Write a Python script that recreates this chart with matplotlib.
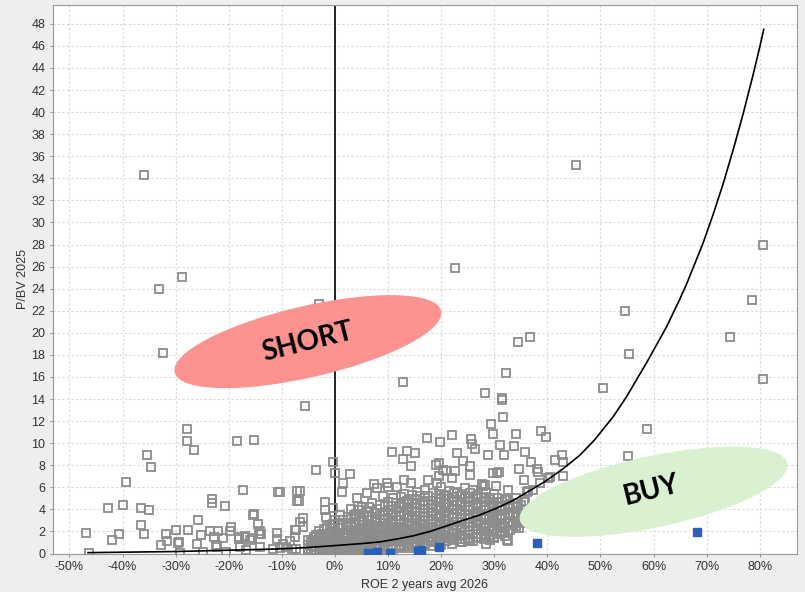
import matplotlib
matplotlib.use("Agg")
import matplotlib.pyplot as plt
from matplotlib.patches import Ellipse
from matplotlib.transforms import ScaledTranslation
from matplotlib.ticker import FuncFormatter, MultipleLocator

plt.rcParams['font.family'] = ['Liberation Sans', 'DejaVu Sans']

# scattered stocks (ROE %, P/BV)
outlier_x = [45.3, -36.0, -28.8, -33.1, 22.7, 80.6, 78.5, 54.6, -3.0, 74.3, 36.8, 34.4, -32.3, 55.3,
             80.7, 12.9, 50.4, -5.7, 32.2, 28.2, 31.5, 31.7, 29.4, 29.7, 34.0, 38.8, 39.7, 22.1, 17.3,
             25.7, 58.7, -27.9, -27.8, -18.4, -15.2, 55.2]
outlier_y = [35.2, 34.3, 25.1, 24.0, 25.9, 28.0, 23.0, 22.0, 22.6, 19.6, 19.6, 19.2, 18.2, 18.1,
             15.8, 15.5, 15.0, 13.4, 16.4, 14.5, 14.1, 12.4, 11.7, 10.8, 10.8, 11.1, 10.6, 10.7, 10.5,
             10.4, 11.3, 11.3, 10.2, 10.2, 10.3, 8.8]

left_x = [-46.8, -46.4, -42.8, -42.0, -40.7, -40.0, -39.4, -36.6, -36.6, -35.9, -35.4, -35.1, -34.7,
          -32.7, -31.9, -31.7, -30.0, -29.5, -27.6, -26.5, -26.0, -25.8, -25.2, -23.1, -23.1, -23.6,
          -22.8, -22.4, -21.1, -20.7, -19.6, -18.1, -17.4, -16.9, -15.7, -15.3, -14.5, -14.3, -10.8,
          -7.1, -7.1, -29.4, -22.0, -19.8, -18.1, -17.0, -16.0, -14.0, -11.0, -11.0, -9.8, -8.5,
          -7.6, -7.3, -22.3, -17.9, -14.2, -24.9, -29.2, -20.5, -16.8, -11.7, -9.2, -7.3]
left_y = [1.9, 0.05, 4.15, 1.25, 1.8, 4.4, 6.45, 4.1, 2.6, 1.75, 8.95, 3.95, 7.8,
          0.8, 1.8, 1.1, 2.1, 0.95, 2.1, 9.4, 0.86, 3.0, 1.7, 4.9, 4.55, 2.0,
          1.5, 0.8, 1.4, 4.3, 2.4, 1.5, 5.8, 1.5, 1.4, 3.55, 2.7, 1.75, 5.6,
          5.7, 4.8, 1.0, 2.0, 2.0, 1.3, 1.6, 1.2, 1.8, 1.9, 1.3, 0.9, 1.1,
          1.5, 2.1, 0.6, 0.6, 0.6, 0.15, 0.05, 0.15, 0.3, 0.4, 0.55, 0.4]

mid_x = [-0.4, 0.0, -3.6, 2.9, 1.5, 1.4, 4.2, 6.0, 7.3, 8.0, 10.8, 13.6, 15.0, 12.8, 14.4, 19.7,
         25.9, 26.4, 31.5, 31.0, 33.7, 35.7, 36.9, 38.1, 41.4, 42.8, 43.0, 43.0, 34.7, 35.6, 32.6,
         31.8, 28.8, 30.5, 29.7, 27.9, 25.5, 25.4, 24.1, 22.9, 22.1, 20.4, 19.1, 19.5, 19.2, 17.5,
         14.4, 13.0, 11.6, 10.0, 9.8, 40.1, 38.6, 36.3, 35.7, 32.5, 30.7, 29.2, 28.2, 30.4, 30.9,
         27.6, 26.9, 34.6, 31.5, 32.4, 28.4, 30.0, 31.3, 25.4, 21.9, 40.5, 38.2, 37.3, 36.1, 32.4,
         35.6, 21.0, 22.6, 19.6, -6.6, -6.8, -10.4, -1.8, -0.4, 4.3, 3.9, -6.0, -7.6, -1.6, -6.6,
         -1.9, -14.2, -15.4, -3.6, -6.0, -10.4, -8.0, -4.1, -2.2, -0.4, 29.8, 31.7, 32.5, 29.2, 25.5]
mid_y = [8.3, 7.3, 7.6, 7.2, 6.4, 5.6, 5.0, 5.5, 6.3, 5.9, 9.2, 9.3, 9.1, 8.6, 7.9, 10.1,
         9.9, 9.5, 13.9, 9.8, 9.7, 9.2, 8.3, 7.7, 8.5, 8.9, 8.3, 7.0, 7.7, 6.7, 5.8,
         8.9, 8.9, 7.3, 7.3, 6.1, 7.9, 7.1, 8.4, 9.1, 6.8, 7.6, 8.0, 7.0, 6.4, 6.7,
         6.4, 6.7, 6.0, 6.0, 6.4, 6.8, 6.4, 5.7, 4.7, 4.1, 4.7, 5.0, 6.2, 6.1, 7.4,
         6.3, 3.3, 2.3, 2.0, 1.2, 0.9, 1.5, 2.4, 1.2, 1.5, 6.9, 7.4, 5.8, 5.6, 4.85,
         4.7, 7.5, 7.5, 8.2, 5.7, 4.8, 5.6, 4.65, 4.1, 4.3, 3.3, 3.2, 2.1, 3.3, 2.9,
         3.9, 2.0, 3.5, 1.5, 2.4, 0.5, 0.4, 1.2, 1.7, 2.7, 3.2, 2.4, 1.1, 1.2, 1.1]

# dense core of the cloud, per ROE column
core_cols = [
    (-5, [0.1, 0.4, 0.8, 1.2]),
    (-4.5, [0.3, 0.7, 1.0]),
    (-4, [0.2, 0.6, 1.0, 1.5]),
    (-3.5, [0.3, 0.7, 1.1, 1.7]),
    (-3, [0.1, 0.5, 0.9, 1.3, 2.0]),
    (-2.5, [0.2, 0.5, 0.9, 1.4, 1.8]),
    (-2, [0.3, 0.7, 1.1, 1.6, 2.2]),
    (-1.5, [0.3, 0.7, 1.2, 1.7, 2.4]),
    (-1, [0.1, 0.5, 0.9, 1.4, 1.9, 2.6]),
    (-0.5, [0.4, 0.8, 1.2, 1.7, 2.3]),
    (0, [0.2, 0.6, 1.0, 1.5, 2.0, 3.0]),
    (0.5, [0.4, 0.8, 1.3, 1.8, 2.6]),
    (1, [0.1, 0.4, 0.8, 1.2, 1.7, 2.3, 3.5]),
    (1.5, [0.2, 0.6, 1.0, 1.4, 1.9, 2.6, 3.0]),
    (2, [0.3, 0.7, 1.1, 1.6, 2.1, 2.8]),
    (2.5, [0.5, 0.9, 1.4, 1.9, 2.5, 3.3]),
    (3, [0.1, 0.5, 0.9, 1.3, 1.8, 2.4, 3.1, 4.0]),
    (3.5, [0.3, 0.7, 1.1, 1.6, 2.1, 2.8, 3.5]),
    (4, [0.2, 0.6, 1.0, 1.5, 2.0, 2.6, 3.6]),
    (4.5, [0.4, 0.8, 1.3, 1.8, 2.3, 3.0, 3.9]),
    (5, [0.3, 0.7, 1.2, 1.7, 2.2, 2.9, 4.2]),
    (5.5, [0.5, 0.9, 1.4, 2.0, 2.6, 3.3]),
    (6, [0.4, 0.8, 1.3, 1.8, 2.4, 3.0, 3.8]),
    (6.5, [0.6, 1.1, 1.6, 2.1, 2.7, 3.4, 4.2]),
    (7, [0.2, 0.6, 1.0, 1.5, 2.0, 2.6, 3.3, 4.6]),
    (7.5, [0.4, 0.8, 1.2, 1.7, 2.3, 2.9, 3.7]),
    (8, [0.5, 0.9, 1.4, 1.9, 2.5, 3.1, 4.0]),
    (8.5, [0.7, 1.1, 1.6, 2.2, 2.8, 3.5, 4.4]),
    (9, [0.3, 0.7, 1.2, 1.7, 2.2, 2.8, 3.5, 5.2]),
    (9.5, [0.5, 0.9, 1.4, 1.9, 2.5, 3.1, 3.8, 4.3]),
    (10, [0.6, 1.0, 1.5, 2.0, 2.6, 3.2, 3.9, 4.7]),
    (10.5, [0.8, 1.2, 1.7, 2.3, 2.9, 3.5, 4.3]),
    (11, [0.4, 0.8, 1.3, 1.8, 2.4, 3.0, 3.7, 5.0]),
    (11.5, [0.6, 1.1, 1.6, 2.1, 2.7, 3.4, 4.0, 4.6]),
    (12, [0.5, 1.0, 1.5, 2.1, 2.7, 3.4, 4.2]),
    (12.5, [0.8, 1.3, 1.8, 2.4, 3.0, 3.8, 4.6, 5.1]),
    (13, [0.7, 1.2, 1.7, 2.3, 2.9, 3.6, 4.5, 5.4]),
    (13.5, [0.9, 1.4, 2.0, 2.6, 3.2, 3.9, 4.8]),
    (14, [0.5, 1.0, 1.6, 2.2, 2.8, 3.5, 4.1, 4.9]),
    (14.5, [0.7, 1.3, 1.9, 2.5, 3.2, 3.8, 4.5, 5.3]),
    (15, [0.8, 1.3, 1.9, 2.5, 3.1, 3.8, 4.6]),
    (15.5, [1.0, 1.6, 2.2, 2.8, 3.4, 4.1, 4.9, 5.6]),
    (16, [0.6, 1.1, 1.7, 2.3, 3.0, 3.7, 4.4, 5.2]),
    (16.5, [0.9, 1.4, 2.0, 2.6, 3.3, 4.0, 4.7]),
    (17, [0.9, 1.5, 2.1, 2.7, 3.4, 4.0, 4.8, 5.8]),
    (17.5, [1.2, 1.8, 2.4, 3.0, 3.7, 4.4, 5.2]),
    (18, [0.7, 1.2, 1.8, 2.4, 3.1, 3.8, 4.5]),
    (18.5, [1.0, 1.5, 2.1, 2.7, 3.4, 4.1, 4.8, 5.5]),
    (19, [1.0, 1.6, 2.2, 2.9, 3.6, 4.3, 5.0]),
    (19.5, [1.3, 1.9, 2.5, 3.2, 3.9, 4.7, 5.4]),
    (20, [0.8, 1.4, 2.0, 2.7, 3.4, 4.1, 4.9, 6.0]),
    (20.5, [1.1, 1.7, 2.3, 3.0, 3.7, 4.5, 5.2]),
    (21, [1.1, 1.7, 2.4, 3.1, 3.8, 4.6, 5.3]),
    (21.5, [1.4, 2.0, 2.7, 3.4, 4.2, 4.9, 5.7]),
    (22, [0.9, 1.5, 2.2, 2.9, 3.6, 4.4, 5.1]),
    (22.5, [1.2, 1.8, 2.5, 3.2, 4.0, 4.7, 5.5]),
    (23, [1.3, 1.9, 2.6, 3.3, 4.0, 4.8, 5.6]),
    (23.5, [1.0, 1.6, 2.2, 2.9, 3.6, 4.4, 5.2]),
    (24, [1.0, 1.7, 2.4, 3.1, 3.9, 4.6, 5.4]),
    (24.5, [1.3, 2.0, 2.7, 3.5, 4.2, 5.0, 5.9]),
    (25, [1.4, 2.1, 2.8, 3.5, 4.3, 5.1]),
    (25.5, [1.7, 2.4, 3.1, 3.9, 4.7, 5.5]),
    (26, [1.1, 1.8, 2.5, 3.3, 4.1, 4.9, 5.8]),
    (26.5, [1.4, 2.1, 2.8, 3.6, 4.4, 5.2]),
    (27, [1.5, 2.2, 3.0, 3.8, 4.6, 5.4]),
    (27.5, [1.8, 2.6, 3.4, 4.2, 5.0]),
    (28, [1.3, 2.0, 2.7, 3.5, 4.3, 5.1]),
    (28.5, [1.5, 2.3, 3.1, 3.9, 4.7, 5.5]),
    (29, [1.7, 2.5, 3.3, 4.1, 4.9]),
    (29.5, [2.0, 2.8, 3.6, 4.4]),
    (30, [1.4, 2.2, 3.0, 3.8, 4.6, 5.4]),
    (30.5, [1.8, 2.6, 3.4, 4.2, 5.0]),
    (31, [1.9, 2.7, 3.5, 4.3]),
    (31.5, [2.3, 3.1, 3.9, 4.7]),
    (32, [1.6, 2.4, 3.2, 4.0, 4.9]),
    (32.5, [2.0, 2.8, 3.6, 4.4]),
    (33, [2.1, 2.9, 3.7, 4.5]),
    (33.5, [2.6, 3.4, 4.2]),
    (34, [2.5, 3.3, 4.2, 5.0]),
    (34.5, [2.9, 3.7, 4.6]),
    (35, [2.8, 3.6, 4.4]),
    (35.5, [3.2, 4.0]),
    (36, [3.0, 3.9]),
    (36.5, [3.5]),
    (37, [3.3]),
]

# highlighted stocks (blue)
blue_x = [6.2, 7.9, 10.3, 15.6, 16.2, 19.6, 38.1, 68.1]
blue_y = [0.05, 0.1, 0.02, 0.2, 0.35, 0.55, 0.95, 1.95]

# fair value curve
curve_x = [-46.5, -40, -30, -20, -10, -5, 0, 5, 8.4, 11.5, 14.7, 17.9, 21.0, 24.1, 27.3, 30.4,
           33.5, 36.7, 39.8, 43.0, 46.1, 48.9, 52.4, 54.9, 58.7, 62.4, 64.7, 66.2, 69.3, 71.2,
           73.1, 75.0, 76.9, 78.7, 80.0, 80.75]
curve_y = [0.08, 0.12, 0.18, 0.3, 0.42, 0.55, 0.72, 0.9, 1.05, 1.3, 1.6, 2.0, 2.5, 3.0, 3.5,
           4.1, 4.8, 5.7, 6.6, 7.7, 8.9, 10.3, 12.4, 14.2, 17.3, 20.5, 22.8, 24.4, 28.1, 30.7,
           33.5, 36.6, 39.9, 43.3, 45.9, 47.5]

core_x = []
core_y = []
for cx, ys in core_cols:
    for yy in ys:
        core_x.append(cx)
        core_y.append(yy)

gray_x = outlier_x + left_x + mid_x + core_x
gray_y = outlier_y + left_y + mid_y + core_y

fig = plt.figure(figsize=(8.05, 5.92), dpi=100)
fig.patch.set_facecolor('#eeeeee')
ax = fig.add_axes([0.0658, 0.065, 0.9242, 0.9265])
ax.set_facecolor('white')

ax.set_xlim(-53.1, 87.0)
ax.set_ylim(0, 49.7)
ax.xaxis.set_major_locator(MultipleLocator(10))
ax.yaxis.set_major_locator(MultipleLocator(2))
ax.xaxis.set_major_formatter(FuncFormatter(lambda v, p: '%d%%' % round(v)))
ax.yaxis.set_major_formatter(FuncFormatter(lambda v, p: '%d' % round(v)))
ax.grid(True, color='#d9d9d9', linestyle=(0, (2, 2)), linewidth=0.8)
ax.set_axisbelow(True)
for s in ax.spines.values():
    s.set_color('#999999')
ax.tick_params(colors='#999999', labelcolor='#333333', labelsize=9, length=2, width=0.8)

ax.axvline(0, color='black', lw=1.2, zorder=2)
ax.plot(gray_x, gray_y, 's', ms=6, mfc='none', mec='#8c8c8c', mew=1.3, zorder=3)
ax.plot(curve_x, curve_y, color='black', lw=1.2, solid_joinstyle='round', zorder=4)
ax.plot(blue_x, blue_y, 's', ms=5.5, color='#2c5fb8', zorder=5)

# shaded zones, size in inches, centre in data coords
short_ell = Ellipse((0, 0), 2.72, 0.70, angle=13, color='#fc9390',
                    transform=fig.dpi_scale_trans + ScaledTranslation(-5.1, 19.2, ax.transData),
                    zorder=6)
buy_ell = Ellipse((0, 0), 2.72, 0.70, angle=12, color='#d9f1d0',
                  transform=fig.dpi_scale_trans + ScaledTranslation(60.0, 5.6, ax.transData),
                  zorder=6)
ax.add_patch(short_ell)
ax.add_patch(buy_ell)
ax.text(-5.1, 19.2, 'SHORT', rotation=14, ha='center', va='center', fontsize=20,
        fontweight='bold', family='Lato', zorder=7)
ax.text(59.6, 5.75, 'BUY', rotation=14, ha='center', va='center', fontsize=20,
        fontweight='bold', family='Lato', zorder=7)

ax.set_xlabel('ROE 2 years avg 2026', fontsize=9, color='#333333', labelpad=4)
ax.set_ylabel('P/BV 2025', fontsize=9, color='#333333', labelpad=2)

fig.savefig('out.png', dpi=100, facecolor=fig.get_facecolor())
